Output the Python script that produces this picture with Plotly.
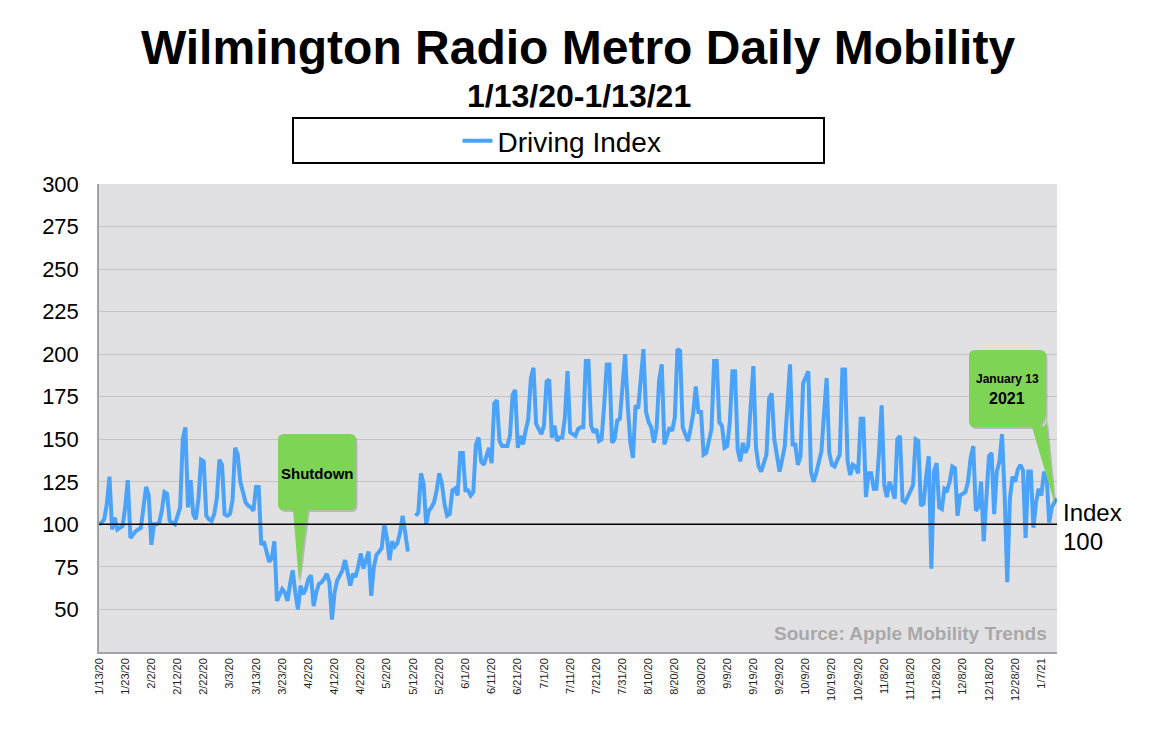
import plotly.graph_objects as go
import pandas as pd

# ---------------- data ----------------
start_date = "2020-01-13"
end_date = "2021-01-13"
dates = pd.date_range(start_date, end_date, freq="D")

driving_index = [
    100, 101, 103, 112, 128, 97, 104, 97, 98, 99,
    110, 126, 92, 94, 96, 97, 98, 110, 122, 117,
    88, 100, 100, 101, 108, 119, 118, 102, 101, 100,
    105, 110, 150, 157, 110, 126, 106, 103, 115, 138,
    137, 105, 103, 102, 106, 115, 138, 135, 106, 105,
    106, 114, 145, 141, 125, 118, 113, 111, 110, 108,
    122, 122, 88, 90, 83, 78, 80, 90, 55, 58,
    62, 60, 55, 65, 73, 60, 50, 64, 59, 62,
    68, 70, 52, 60, 65, 66, 68, 71, 66, 44,
    60, 67, 70, 73, 79, 72, 64, 71, 69, 75,
    83, 74, 80, 84, 58, 75, 82, 84, 86, 100,
    92, 79, 90, 87, 89, 95, 105, 95, 84, None,
    None, 105, 107, 130, 124, 100, 108, 110, 113, 120,
    130, 124, 112, 105, 106, 120, 121, 117, 142, 142,
    120, 120, 117, 119, 147, 151, 137, 135, 140, 145,
    136, 171, 173, 149, 146, 146, 146, 152, 176, 179,
    145, 152, 147, 155, 162, 186, 192, 159, 156, 153,
    158, 184, 185, 151, 158, 149, 151, 151, 163, 190,
    154, 153, 152, 156, 157, 157, 196, 196, 158, 154,
    156, 149, 150, 170, 194, 194, 148, 150, 161, 162,
    180, 200, 170, 148, 139, 170, 168, 185, 203, 166,
    160, 157, 148, 156, 185, 194, 147, 152, 157, 155,
    163, 203, 202, 157, 152, 149, 156, 165, 181, 166,
    166, 141, 142, 148, 156, 196, 196, 160, 158, 145,
    146, 160, 190, 190, 144, 137, 148, 142, 146, 170,
    193, 145, 134, 131, 137, 141, 174, 177, 150, 140,
    131, 138, 146, 170, 194, 147, 147, 135, 140, 183,
    186, 190, 131, 125, 130, 136, 143, 165, 186, 142,
    135, 134, 138, 141, 191, 191, 137, 129, 135, 134,
    130, 162, 162, 116, 130, 130, 121, 121, 142, 170,
    123, 116, 125, 121, 115, 150, 152, 114, 113, 116,
    119, 123, 150, 149, 111, 112, 128, 140, 74, 131,
    136, 110, 109, 121, 120, 125, 134, 133, 105, 117,
    118, 119, 125, 139, 146, 108, 110, 125, 90, 120,
    140, 142, 106, 131, 137, 153, 117, 66, 115, 128,
    125, 132, 135, 132, 92, 131, 131, 98, 113, 121,
    117, 130, 130, 101, 110, 113, 115,
]

tick_dates = list(dates[::10])
tick_labels = [f"{d.month}/{d.day}/{d.strftime('%y')}" for d in tick_dates]
y_ticks = [50, 75, 100, 125, 150, 175, 200, 225, 250, 275, 300]

series_name = "Driving Index"
title_text = "Wilmington Radio Metro Daily Mobility"
subtitle_text = "1/13/20-1/13/21"
source_text = "Source: Apple Mobility Trends"

# ---------------- layout helpers (screen pixel -> paper) ----------------
OFF = 8  # default page body margin
W, H = 1172 - 2 * OFF, 744 - 2 * OFF
PL, PR, PT, PB = 99, 1057, 184, 652  # plot area in screen pixels


def px(x):
    return (x - PL) / (PR - PL)


def py(y):
    return (PB - y) / (PB - PT)


def callout_path(x0, y0, x1, y1, r, bottom_pts, dx=0, dy=0):
    def P(x, y):
        return f"{px(x + dx):.5f},{py(y + dy):.5f}"

    s = f"M{P(x0 + r, y0)} L{P(x1 - r, y0)} Q{P(x1, y0)} {P(x1, y0 + r)} "
    s += f"L{P(x1, y1 - r)} Q{P(x1, y1)} {P(x1 - r, y1)} "
    for (bx, by) in bottom_pts:
        s += f"L{P(bx, by)} "
    s += f"L{P(x0 + r, y1)} Q{P(x0, y1)} {P(x0, y1 - r)} "
    s += f"L{P(x0, y0 + r)} Q{P(x0, y0)} {P(x0 + r, y0)} Z"
    return s


FONT = "Liberation Sans, Arial, Helvetica, sans-serif"
GREEN = "#7ed455"

fig = go.Figure()
fig.add_trace(go.Scatter(
    x=dates, y=driving_index, mode="lines", name=series_name,
    line=dict(color="#4aa3f8", width=4), connectgaps=False,
))

shapes = []
shut_box = (278, 434, 356, 510)
shut_ptr = [(308, 510), (299, 582), (293, 510)]
jan_box = (969, 350, 1046, 427)
jan_ptr = [(1046, 415), (1055, 505), (1032, 427)]

for box, ptr in [(shut_box, shut_ptr), (jan_box, jan_ptr)]:
    shapes.append(dict(type="path", xref="paper", yref="paper",
                       path=callout_path(*box, 6, ptr, dx=1.5, dy=2),
                       fillcolor="rgba(0,0,0,0.18)", line=dict(width=0), layer="above"))
    shapes.append(dict(type="path", xref="paper", yref="paper",
                       path=callout_path(*box, 6, ptr),
                       fillcolor=GREEN, line=dict(width=0), layer="above"))

shapes.append(dict(type="line", xref="paper", yref="y", x0=0, x1=1, y0=100, y1=100,
                   line=dict(color="black", width=1.5), layer="above"))
shapes.append(dict(type="rect", xref="paper", yref="paper",
                   x0=px(293), x1=px(824), y0=py(163), y1=py(118),
                   line=dict(color="black", width=2), fillcolor="rgba(0,0,0,0)"))

annotations = [
    dict(text=f"<b>{subtitle_text}</b>", xref="paper", yref="paper",
         x=px(579), y=py(96), showarrow=False, xanchor="center", yanchor="middle",
         font=dict(family=FONT, size=32, color="black")),
    dict(text="Index", xref="paper", yref="paper", x=px(1061), y=py(512),
         showarrow=False, xanchor="left", yanchor="middle",
         font=dict(family=FONT, size=24, color="black")),
    dict(text="100", xref="paper", yref="paper", x=px(1061), y=py(541),
         showarrow=False, xanchor="left", yanchor="middle",
         font=dict(family=FONT, size=24, color="black")),
    dict(text=f"<b>{source_text}</b>", xref="paper", yref="paper", x=px(1049), y=py(633),
         showarrow=False, xanchor="right", yanchor="middle",
         font=dict(family=FONT, size=19, color="#a8a8a8")),
    dict(text="<b>Shutdown</b>", xref="paper", yref="paper", x=px(317), y=py(473),
         showarrow=False, xanchor="center", yanchor="middle",
         font=dict(family=FONT, size=15, color="black")),
    dict(text="<b>January 13</b>", xref="paper", yref="paper", x=px(1007), y=py(379),
         showarrow=False, xanchor="center", yanchor="middle",
         font=dict(family=FONT, size=12, color="black")),
    dict(text="<b>2021</b>", xref="paper", yref="paper", x=px(1007), y=py(398),
         showarrow=False, xanchor="center", yanchor="middle",
         font=dict(family=FONT, size=16, color="black")),
]

fig.update_layout(
    width=W, height=H,
    margin=dict(l=PL - OFF, r=(W + OFF) - PR, t=PT - OFF, b=(H + OFF) - PB),
    paper_bgcolor="white", plot_bgcolor="#e1e1e4",
    font=dict(family=FONT, color="black"),
    title=dict(text=f"<b>{title_text}</b>", xref="paper", x=0.5, xanchor="center",
               yref="container", y=1 - (47 - OFF) / H, yanchor="middle",
               font=dict(family=FONT, size=48, color="black")),
    showlegend=True,
    legend=dict(orientation="h", xref="paper", yref="paper", x=px(562), y=py(141),
                xanchor="center", yanchor="middle", bgcolor="rgba(0,0,0,0)",
                borderwidth=0, font=dict(family=FONT, size=28, color="black"),
                itemwidth=30),
    shapes=shapes,
    annotations=annotations,
)

fig.update_xaxes(
    type="date", range=[dates[0], dates[-1]],
    tickmode="array", tickvals=tick_dates, ticktext=tick_labels,
    tickangle=-90, tickfont=dict(family=FONT, size=11, color="#222222"),
    showgrid=False, showline=True, linecolor="#a3a3a3", linewidth=1.5,
    ticks="", zeroline=False,
)
fig.update_yaxes(
    range=[25, 300], tickmode="array", tickvals=y_ticks,
    tickfont=dict(family=FONT, size=22, color="black"),
    showgrid=True, gridcolor="#c4c4c4", gridwidth=1,
    showline=True, linecolor="#a3a3a3", linewidth=1.5,
    ticks="", zeroline=False, ticklabelstandoff=14,
)

fig.write_html("out.html")
